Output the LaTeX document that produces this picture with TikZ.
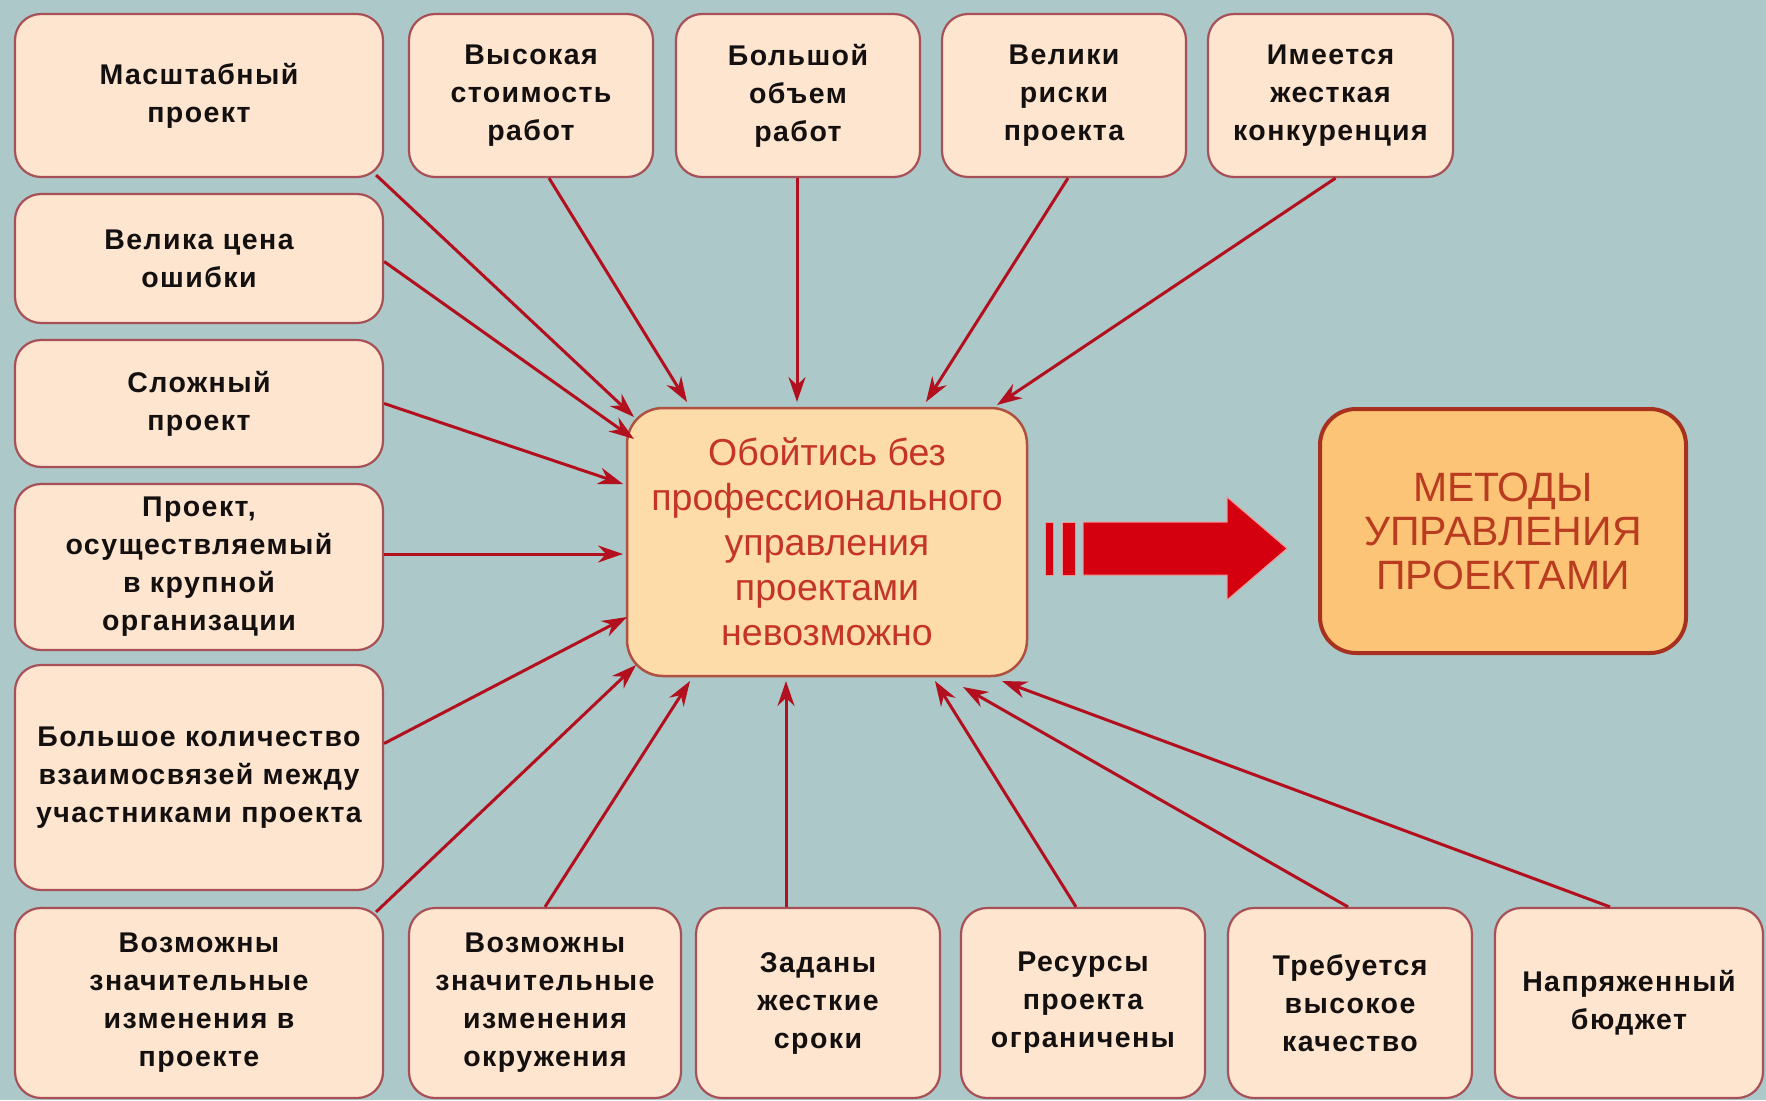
\documentclass[tikz,border=0pt]{standalone}
\usepackage{fontspec}
\setmainfont{Liberation Sans}
\newfontfamily\boxfont[LetterSpace=5]{Liberation Sans}
\usetikzlibrary{arrows.meta,calc}
\definecolor{bg}{RGB}{172,200,200}
\definecolor{boxfill}{RGB}{253,229,208}
\definecolor{boxline}{RGB}{168,80,88}
\definecolor{cfill}{RGB}{253,220,170}
\definecolor{cline}{RGB}{176,80,64}
\definecolor{ctext}{RGB}{196,52,40}
\definecolor{rfill}{RGB}{251,196,118}
\definecolor{rline}{RGB}{168,48,30}
\definecolor{rtext}{RGB}{186,60,32}
\definecolor{arrowred}{RGB}{178,16,30}
\definecolor{bigred}{RGB}{212,0,16}
\definecolor{halo}{RGB}{240,150,150}
\definecolor{txt}{RGB}{20,16,16}
\tikzset{
  box/.style={draw=boxline, line width=2.2pt, fill=boxfill, rounded corners=26pt,
    align=center, text=txt, inner sep=0pt,
    font=\boxfont\bfseries\fontsize{28.5pt}{38pt}\selectfont},
  centerbox/.style={draw=cline, line width=2.5pt, fill=cfill, rounded corners=36pt,
    align=center, text=ctext, inner sep=0pt,
    font=\fontsize{37.5pt}{45pt}\selectfont},
  resultbox/.style={draw=rline, line width=4pt, fill=rfill, rounded corners=36pt,
    align=center, text=rtext, inner sep=0pt,
    font=\fontsize{41pt}{44pt}\selectfont},
  arr/.style={draw=arrowred, line width=3pt, -{Stealth[length=25pt,width=17pt]}},
}
\begin{document}
\begin{tikzpicture}[x=1pt,y=-1pt]
\fill[bg] (0,0) rectangle (1766,1100);
\useasboundingbox (0,0) rectangle (1766,1100);

% top row
\node[box, minimum width=368pt, minimum height=163pt] (m1) at (199,95.5) {Масштабный\\проект};
\node[box, minimum width=244pt, minimum height=163pt] (v2) at (531,95.5) {Высокая\\стоимость\\работ};
\node[box, minimum width=244pt, minimum height=163pt] (b3) at (798,95.5) {Большой\\объем\\работ};
\node[box, minimum width=244pt, minimum height=163pt] (r4) at (1064,95.5) {Велики\\риски\\проекта};
\node[box, minimum width=245pt, minimum height=163pt] (k5) at (1330.5,95.5) {Имеется\\жесткая\\конкуренция};

% left column
\node[box, minimum width=368pt, minimum height=129pt] (e6) at (199,258.5) {Велика цена\\ошибки};
\node[box, minimum width=368pt, minimum height=127pt] (s7) at (199,403.5) {Сложный\\проект};
\node[box, minimum width=368pt, minimum height=166pt] (p8) at (199,567) {Проект,\\осуществляемый\\в крупной\\организации};
\node[box, minimum width=368pt, minimum height=225pt] (q9) at (199,777.5) {Большое количество\\взаимосвязей между\\участниками проекта};

% bottom row
\node[box, minimum width=368pt, minimum height=190pt] (z10) at (199,1003) {Возможны\\значительные\\изменения в\\проекте};
\node[box, minimum width=272pt, minimum height=190pt] (z11) at (545,1003) {Возможны\\значительные\\изменения\\окружения};
\node[box, minimum width=244pt, minimum height=190pt] (z12) at (818,1003) {Заданы\\жесткие\\сроки};
\node[box, minimum width=244pt, minimum height=190pt] (z13) at (1083,1003) {Ресурсы\\проекта\\ограничены};
\node[box, minimum width=244pt, minimum height=190pt] (z14) at (1350,1003) {Требуется\\высокое\\качество};
\node[box, minimum width=268pt, minimum height=190pt] (z15) at (1629,1003) {Напряженный\\бюджет};

% center and result
\node[centerbox, minimum width=400pt, minimum height=268pt] (c) at (827,542) {Обойтись без\\профессионального\\управления\\проектами\\невозможно};
\node[resultbox, minimum width=366pt, minimum height=244pt] (r) at (1503,531) {МЕТОДЫ\\УПРАВЛЕНИЯ\\ПРОЕКТАМИ};

% connectors
\draw[arr] ($(m1.south east)+(-8,-3)$) -- ($(c.center)+(-193,-125)$);
\draw[arr] ($(v2.south)+(18,0)$) -- ($(c.center)+(-140,-140)$);
\draw[arr] ($(b3.south)+(-1,0)$) -- ($(c.center)+(-30,-140)$);
\draw[arr] ($(r4.south)+(4,0)$) -- ($(c.center)+(99,-140)$);
\draw[arr] ($(k5.south)+(5,0)$) -- ($(c.center)+(170,-137)$);
\draw[arr] ($(e6.east)+(0,3)$) -- ($(c.center)+(-193,-103)$);
\draw[arr] (s7.east) -- ($(c.center)+(-204,-58)$);
\draw[arr] ($(p8.east)+(0,-13)$) -- ($(c.center)+(-204,12)$);
\draw[arr] ($(q9.east)+(0,-34)$) -- ($(c.center)+(-200,75)$);
\draw[arr] ($(z10.north east)+(-8,5)$) -- ($(c.center)+(-191,123)$);
\draw[arr] (z11.north) -- ($(c.center)+(-137,139)$);
\draw[arr] ($(z12.north)+(-32,0)$) -- ($(c.center)+(-41,139)$);
\draw[arr] ($(z13.north)+(-7,0)$) -- ($(c.center)+(108,139)$);
\draw[arr] ($(z14.north)+(-2,0)$) -- ($(c.center)+(136,145)$);
\draw[arr] ($(z15.north)+(-19,0)$) -- ($(c.center)+(175,139)$);

% big arrow
\filldraw[fill=bigred, draw=halo, line width=1pt] (1045,522) rectangle (1053,575);
\filldraw[fill=bigred, draw=halo, line width=1pt] (1062,522) rectangle (1075,575);
\filldraw[fill=bigred, draw=halo, line width=1pt]
  (1083,522) -- (1227,522) -- (1227,497) -- (1287,548.5) -- (1227,600) -- (1227,575) -- (1083,575) -- cycle;
\end{tikzpicture}
\end{document}
